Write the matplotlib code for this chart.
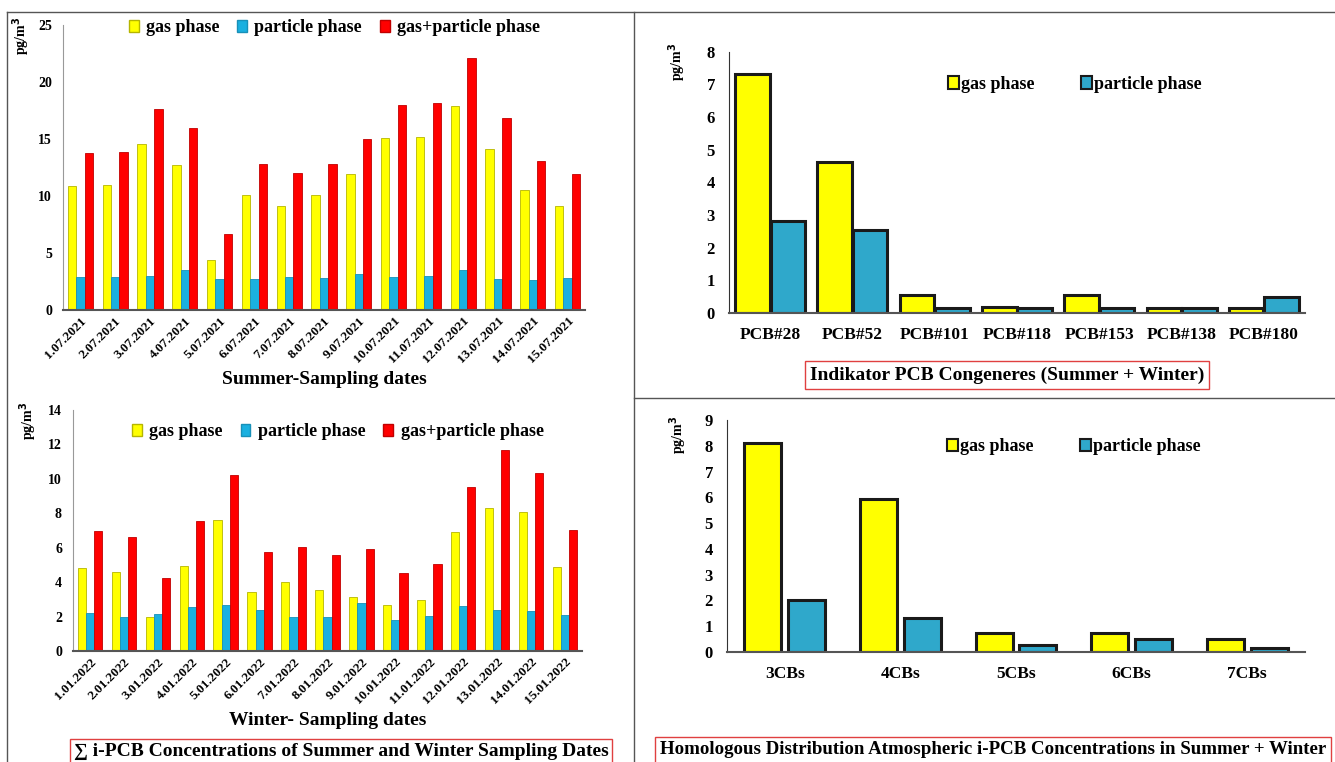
import numpy as np
import matplotlib
matplotlib.use("Agg")
import matplotlib.pyplot as plt
from matplotlib.lines import Line2D
from matplotlib.patches import Patch

plt.rcParams['font.family'] = ['Liberation Serif', 'DejaVu Serif']
plt.rcParams['font.weight'] = 'bold'

# Summer sampling dates
summer_dates = ['1.07.2021', '2.07.2021', '3.07.2021', '4.07.2021', '5.07.2021',
                '6.07.2021', '7.07.2021', '8.07.2021', '9.07.2021', '10.07.2021',
                '11.07.2021', '12.07.2021', '13.07.2021', '14.07.2021', '15.07.2021']
summer_gas = [10.9, 11.0, 14.6, 12.7, 4.4, 10.1, 9.1, 10.1, 11.9, 15.1, 15.2, 17.9, 14.1, 10.5, 9.1]
summer_part = [2.9, 2.9, 3.0, 3.5, 2.7, 2.7, 2.9, 2.8, 3.2, 2.9, 3.0, 3.5, 2.7, 2.6, 2.8]
summer_total = [13.8, 13.9, 17.6, 16.0, 6.7, 12.8, 12.0, 12.8, 15.0, 18.0, 18.2, 22.1, 16.8, 13.1, 11.9]

# Winter sampling dates
winter_dates = ['1.01.2022', '2.01.2022', '3.01.2022', '4.01.2022', '5.01.2022',
                '6.01.2022', '7.01.2022', '8.01.2022', '9.01.2022', '10.01.2022',
                '11.01.2022', '12.01.2022', '13.01.2022', '14.01.2022', '15.01.2022']
winter_gas = [4.8, 4.6, 2.0, 4.95, 7.6, 3.4, 4.0, 3.55, 3.15, 2.7, 2.95, 6.9, 8.3, 8.1, 4.9]
winter_part = [2.2, 2.0, 2.15, 2.55, 2.65, 2.4, 2.0, 2.0, 2.8, 1.8, 2.05, 2.6, 2.4, 2.3, 2.1]
winter_total = [6.95, 6.6, 4.25, 7.55, 10.25, 5.75, 6.05, 5.6, 5.95, 4.55, 5.05, 9.5, 11.65, 10.35, 7.03]

# Indicator congeners
congeners = ['PCB#28', 'PCB#52', 'PCB#101', 'PCB#118', 'PCB#153', 'PCB#138', 'PCB#180']
cong_gas = [7.3, 4.62, 0.55, 0.18, 0.55, 0.14, 0.14]
cong_part = [2.8, 2.55, 0.14, 0.14, 0.14, 0.14, 0.5]

# Homologue groups
homologs = ['3CBs', '4CBs', '5CBs', '6CBs', '7CBs']
hom_gas = [8.1, 5.95, 0.73, 0.73, 0.52]
hom_part = [2.03, 1.32, 0.27, 0.5, 0.15]

YEL = '#FFFF00'
BLU = '#1AB0E0'
RED = '#FF0000'
TEAL = '#2FA8CB'

fig = plt.figure(figsize=(13.35, 7.62), dpi=100)


def fy(p):
    return 1 - p / 762.0


def fx(p):
    return p / 1335.0


def unit_label(px, py):
    fig.text(fx(px), fy(py), 'pg/m$^3$', rotation=90, ha='center', va='center',
             fontsize=10, fontweight='bold')


def style_axes(ax, ysize, ypad):
    ax.spines['top'].set_visible(False)
    ax.spines['right'].set_visible(False)
    ax.spines['left'].set_color('#999999')
    ax.spines['bottom'].set_color('#555555')
    ax.spines['bottom'].set_linewidth(1.5)
    ax.tick_params(axis='y', length=0, labelsize=ysize, pad=ypad)
    ax.tick_params(axis='x', length=0)
    for lbl in ax.get_yticklabels():
        lbl.set_fontweight('bold')


def date_panel(rect, dates, gas, part, total, ymax, ystep, xlabel, leg_y):
    ax = fig.add_axes(rect)
    x = np.arange(len(dates))
    w = 0.24
    ax.bar(x - w, gas, w, color=YEL, edgecolor='#B5B500', linewidth=0.6)
    ax.bar(x, part, w, color=BLU, edgecolor='#1890B8', linewidth=0.6)
    ax.bar(x + w, total, w, color=RED, edgecolor='#C00000', linewidth=0.6)
    ax.set_xlim(-0.5, len(dates) - 0.5)
    ax.set_ylim(0, ymax)
    ax.set_yticks(np.arange(0, ymax + 0.1, ystep))
    ax.set_xticks(x)
    ax.set_xticklabels(dates, rotation=45, ha='right', rotation_mode='anchor',
                       fontsize=9.5, fontweight='bold')
    style_axes(ax, 10, 8)
    ax.set_xlabel(xlabel, fontsize=14, fontweight='bold', labelpad=4)
    handles = [Patch(facecolor=YEL, edgecolor='#B5B500'),
               Patch(facecolor=BLU, edgecolor='#1890B8'),
               Patch(facecolor=RED, edgecolor='#C00000')]
    ax.legend(handles, ['gas phase', 'particle phase', 'gas+particle phase'],
              loc='center', bbox_to_anchor=(0.52, leg_y), ncol=3, frameon=False,
              prop={'size': 13, 'weight': 'bold'}, handlelength=0.55,
              handleheight=0.6, handletextpad=0.4, columnspacing=1.0)
    return ax


def group_panel(rect, cats, gas, part, ymax, w, off, leg_xy):
    ax = fig.add_axes(rect)
    x = np.arange(len(cats))
    ax.bar(x - off, gas, w, color=YEL, edgecolor='#1a1a1a', linewidth=2.2)
    ax.bar(x + off, part, w, color=TEAL, edgecolor='#1a1a1a', linewidth=2.2)
    ax.set_xlim(-0.5, len(cats) - 0.5)
    ax.set_ylim(0, ymax)
    ax.set_yticks(np.arange(0, ymax + 0.1, 1))
    ax.set_xticks(x)
    ax.set_xticklabels(cats, fontsize=12.5, fontweight='bold')
    style_axes(ax, 12, 10)
    ax.spines['left'].set_color('#333333')
    ax.tick_params(axis='x', pad=10)
    handles = [Patch(facecolor=YEL, edgecolor='#1a1a1a', linewidth=1.5),
               Patch(facecolor=TEAL, edgecolor='#1a1a1a', linewidth=1.5)]
    ax.legend(handles, ['gas phase', 'particle phase'], loc='center',
              bbox_to_anchor=leg_xy, ncol=2, frameon=False,
              prop={'size': 13, 'weight': 'bold'}, handlelength=0.6,
              handleheight=0.7, handletextpad=0.1, columnspacing=2.6)
    return ax


date_panel([fx(63), fy(310), fx(585) - fx(63), fy(25) - fy(310)],
           summer_dates, summer_gas, summer_part, summer_total, 25, 5,
           'Summer-Sampling dates', 0.99)
date_panel([fx(73), fy(651), fx(582) - fx(73), fy(410) - fy(651)],
           winter_dates, winter_gas, winter_part, winter_total, 14, 2,
           'Winter- Sampling dates', 0.91)

group_panel([fx(729), fy(313), fx(1305) - fx(729), fy(51.5) - fy(313)],
            congeners, cong_gas, cong_part, 8, 0.42, 0.215, (0.60, 0.875))
group_panel([fx(727), fy(652), fx(1305) - fx(727), fy(420) - fy(652)],
            homologs, hom_gas, hom_part, 9, 0.32, 0.19, (0.60, 0.885))

unit_label(21, 36)
unit_label(28, 421)
unit_label(677, 62)
unit_label(678, 435)

# panel frame lines
for xs, ys in [((fx(7), 1.0), (fy(12), fy(12))),
               ((fx(634), fx(634)), (fy(12), 0.0)),
               ((fx(7), fx(7)), (fy(12), 0.0)),
               ((fx(634), 1.0), (fy(398), fy(398)))]:
    fig.add_artist(Line2D(xs, ys, color='#555555', linewidth=1.0))

# caption boxes
fig.text(fx(341), fy(751), '\u2211 i-PCB Concentrations of Summer and Winter Sampling Dates',
         ha='center', va='center', fontsize=14, fontweight='bold',
         bbox=dict(boxstyle='square,pad=0.2', facecolor='white', edgecolor='#E04040', linewidth=1))
fig.text(fx(1007), fy(375), 'Indikator PCB Congeneres (Summer + Winter)',
         ha='center', va='center', fontsize=14, fontweight='bold',
         bbox=dict(boxstyle='square,pad=0.25', facecolor='white', edgecolor='#E04040', linewidth=1))
fig.text(fx(993), fy(750), 'Homologous Distribution Atmospheric i-PCB Concentrations in Summer + Winter',
         ha='center', va='center', fontsize=13.6, fontweight='bold',
         bbox=dict(boxstyle='square,pad=0.25', facecolor='white', edgecolor='#E04040', linewidth=1))

fig.savefig('out.png', dpi=100)
